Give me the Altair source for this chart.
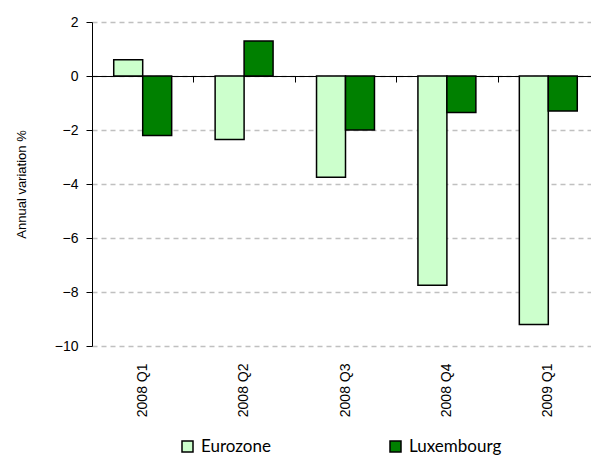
import altair as alt
import pandas as pd

quarters = ["2008 Q1", "2008 Q2", "2008 Q3", "2008 Q4", "2009 Q1"]
eurozone = [0.6, -2.35, -3.75, -7.75, -9.2]
luxembourg = [-2.2, 1.3, -2.0, -1.35, -1.3]
series = ["Eurozone", "Luxembourg"]
colors = ["#ccffcc", "#008000"]
y_ticks = [-10, -8, -6, -4, -2, 0, 2]

df = pd.DataFrame({
    "quarter": quarters * 2,
    "series": [series[0]] * len(quarters) + [series[1]] * len(quarters),
    "value": eurozone + luxembourg,
})

FONT = "Liberation Sans"
LEGEND_FONT = "Lato"

x_scale = alt.Scale(domain=quarters, paddingInner=0, paddingOuter=0)
y_scale = alt.Scale(domain=[-10, 2], nice=False)

bars = alt.Chart(df).mark_bar(stroke="black", strokeWidth=1.5).encode(
    x=alt.X("quarter:N", scale=x_scale, sort=quarters,
            axis=alt.Axis(title=None, labelAngle=-90, ticks=False, domain=False,
                          labelPadding=17, labelFontSize=14, labelColor="black",
                          labelFont=FONT, grid=False)),
    xOffset=alt.XOffset("series:N", sort=series,
                        scale=alt.Scale(domain=series, paddingInner=0, paddingOuter=0.75)),
    y=alt.Y("value:Q", scale=y_scale,
            axis=alt.Axis(values=y_ticks, title="Annual variation %", grid=True,
                          gridDash=[5, 4], gridColor="#c0c0c0", gridWidth=1.5,
                          domainColor="black", domainWidth=1, tickColor="black",
                          tickSize=6, labelPadding=8, labelFontSize=14,
                          labelColor="black", labelFont=FONT, titleFont=FONT,
                          titleFontSize=13, titleFontWeight="normal",
                          titleColor="black", titlePadding=26)),
    fill=alt.Fill("series:N", scale=alt.Scale(domain=series, range=colors),
                  legend=alt.Legend(title=None, orient="none", direction="horizontal",
                                    legendX=87, legendY=416, columnPadding=116,
                                    symbolType="square", symbolSize=121,
                                    symbolStrokeColor="black", symbolStrokeWidth=1.5,
                                    labelFontSize=17, labelFont=LEGEND_FONT,
                                    labelColor="black", labelOffset=5)),
)

zero_axis = alt.Chart(df).mark_point(opacity=0).encode(
    x=alt.X("quarter:N", scale=x_scale, sort=quarters,
            axis=alt.Axis(title=None, labels=False, orient="bottom", offset=-270,
                          tickBand="extent", tickSize=6, tickColor="black",
                          domainColor="black", domainWidth=1, grid=False)),
    y=alt.datum(0),
)

chart = alt.layer(bars, zero_axis).resolve_axis(x="independent").properties(
    width=507, height=324,
    autosize=alt.AutoSizeParams(type="none"),
    padding={"left": 84, "top": 14, "right": -8, "bottom": 114},
).configure_view(stroke=None)

chart.save("out.html", embed_options={"renderer": "svg", "actions": False})
